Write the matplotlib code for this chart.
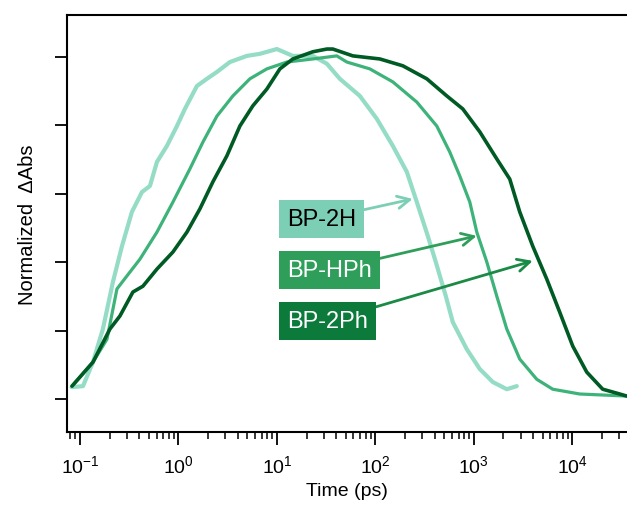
import matplotlib
matplotlib.use("Agg")
import matplotlib.pyplot as plt

plt.rcParams['font.family'] = ['Liberation Sans', 'DejaVu Sans']
plt.rcParams['mathtext.fontset'] = 'custom'
plt.rcParams['mathtext.rm'] = 'Liberation Sans'
plt.rcParams['mathtext.it'] = 'Liberation Sans'

# BP-2H (светлая кривая)
t_2h = [0.0823, 0.1073, 0.1355, 0.171, 0.216, 0.267, 0.337, 0.426, 0.514, 0.605, 0.764,
        0.966, 1.164, 1.541, 1.946, 2.46, 3.333, 4.96, 6.72, 10.0, 14.5, 23.2, 32.2,
        43.6, 69.6, 103.6, 150.6, 208.9, 263.8, 341, 411, 520, 612.2, 849, 1151,
        1560, 2163, 2733]
v_2h = [0.035, 0.038, 0.108, 0.205, 0.342, 0.447, 0.547, 0.605, 0.623, 0.693, 0.740,
        0.798, 0.848, 0.915, 0.936, 0.956, 0.985, 1.003, 1.009, 1.023, 1.003, 1.003, 0.980,
        0.936, 0.886, 0.819, 0.740, 0.664, 0.576, 0.477, 0.401, 0.301, 0.225, 0.146, 0.088,
        0.050, 0.029, 0.038]

# BP-HPh
t_hph = [0.0830, 0.1355, 0.188, 0.2375, 0.300, 0.4065, 0.605, 0.880, 1.309, 1.773, 2.46,
         3.575, 5.32, 7.91, 12.64, 23.2, 40.6, 51.4, 87.9, 150.6, 263.8, 421.1, 570.6,
         720.9, 910.9, 1073, 1355, 1712, 2163, 2931, 4361, 6339, 11920, 35750]
v_hph = [0.038, 0.108, 0.175, 0.322, 0.360, 0.409, 0.488, 0.576, 0.673, 0.751, 0.827,
         0.886, 0.936, 0.965, 0.985, 0.994, 1.003, 0.985, 0.965, 0.927, 0.868, 0.798, 0.722,
         0.652, 0.576, 0.488, 0.401, 0.301, 0.205, 0.117, 0.058, 0.029, 0.015, 0.009]

# BP-2Ph (тёмная кривая)
t_2ph = [0.0830, 0.1355, 0.2016, 0.2547, 0.345, 0.436, 0.605, 0.880, 1.220, 1.653, 2.240,
         3.108, 4.21, 5.70, 7.91, 10.73, 14.54, 23.2, 32.2, 37.0, 59.1, 111.1, 190.2, 333.3,
         531.9, 773.4, 1151, 1712, 2320, 2931, 3972, 5509, 7467, 10120, 14040, 20400,
         30350, 35750]
v_2ph = [0.038, 0.108, 0.205, 0.243, 0.313, 0.330, 0.380, 0.430, 0.488, 0.556, 0.635,
         0.711, 0.798, 0.857, 0.906, 0.965, 0.994, 1.015, 1.023, 1.023, 1.003, 0.994, 0.974,
         0.936, 0.886, 0.848, 0.781, 0.702, 0.643, 0.547, 0.447, 0.351, 0.254, 0.155, 0.079,
         0.029, 0.015, 0.009]

names = ['BP-2H', 'BP-HPh', 'BP-2Ph']
line_colors = ['#94dcc5', '#3db37a', '#005a24']
box_colors = ['#7ccfb5', '#2e9e5a', '#0b7a3b']
arrow_colors = ['#7ccfb5', '#2e9e5a', '#1a8a45']
text_colors = ['black', 'white', 'white']
widths = [3.0, 2.3, 2.6]
arrow_tips = [(240, 0.585), (1072, 0.477), (3975, 0.404)]
label_y = [0.526, 0.377, 0.228]

fig = plt.figure(figsize=(6.27, 5.10), dpi=100)
ax = fig.add_axes([0.107, 0.151, 0.893, 0.818])

for t, v, c, w in zip([t_2h, t_hph, t_2ph], [v_2h, v_hph, v_2ph], line_colors, widths):
    ax.plot(t, v, color=c, lw=w, solid_joinstyle='round', solid_capstyle='round')

for name, tip, ly, bc, ac, tc in zip(names, arrow_tips, label_y, box_colors, arrow_colors, text_colors):
    ax.annotate(name, xy=tip, xytext=(12.65, ly), textcoords='data',
                ha='left', va='center', fontsize=17, color=tc,
                bbox=dict(boxstyle='square,pad=0.35', fc=bc, ec='none'),
                arrowprops=dict(arrowstyle='->', color=ac, lw=2, mutation_scale=22,
                                shrinkA=0, shrinkB=0))

ax.set_xscale('log')
ax.set_xlim(0.074, 36000)
ax.set_ylim(-0.096, 1.123)
ax.set_yticks([0, 0.2, 0.4, 0.6, 0.8, 1.0])
ax.set_yticklabels([])
ax.spines['right'].set_visible(False)
for s in ['left', 'bottom', 'top']:
    ax.spines[s].set_linewidth(1.5)
ax.tick_params(axis='both', which='major', direction='out', length=9, width=1.3, labelsize=14)
ax.tick_params(axis='x', which='minor', direction='out', length=5, width=1.1)
ax.tick_params(axis='x', pad=7)

ax.set_xlabel('Time (ps)', fontsize=14, labelpad=4)
ax.set_ylabel('Normalized  ΔAbs', fontsize=14.5, labelpad=9)

fig.savefig('out.png', dpi=100)
